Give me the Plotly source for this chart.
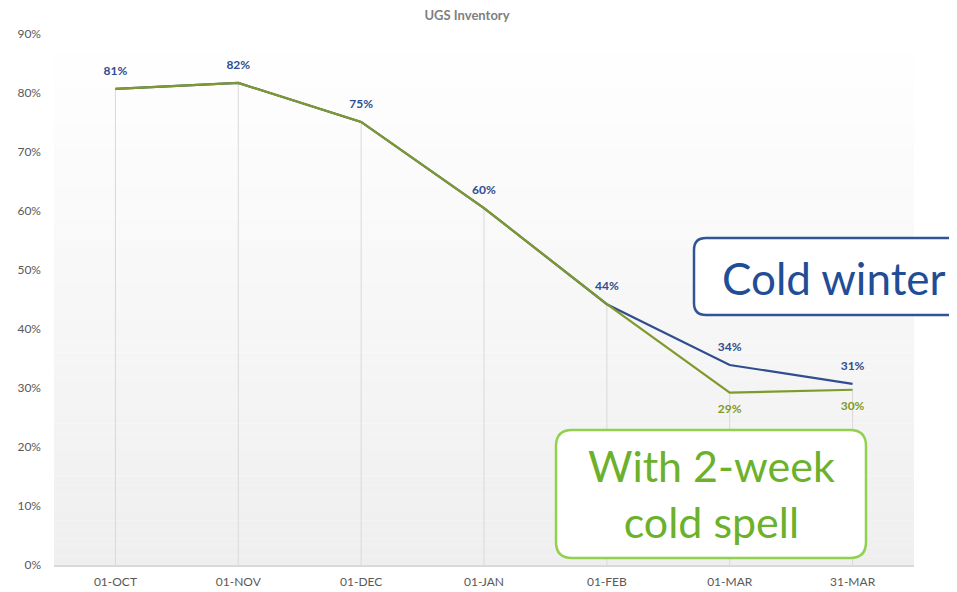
import plotly.graph_objects as go

categories = ["01-OCT", "01-NOV", "01-DEC", "01-JAN", "01-FEB", "01-MAR", "31-MAR"]
cold_winter = [0.807, 0.817, 0.751, 0.605, 0.442, 0.339, 0.307]
cold_spell = [0.807, 0.817, 0.751, 0.605, 0.442, 0.292, 0.297]
cold_winter_labels = ["81%", "82%", "75%", "60%", "44%", "34%", "31%"]
cold_spell_labels = ["", "", "", "", "", "29%", "30%"]
y_ticks = [0, 0.1, 0.2, 0.3, 0.4, 0.5, 0.6, 0.7, 0.8, 0.9]

BLUE = "#2f4d8f"
GREEN = "#7f9a2a"
FONT = "Lato, Liberation Sans, sans-serif"

# page has an 8px body offset; figure sized to fill the remaining window
OFF = 8
W, H = 957 - OFF, 592 - OFF
PL, PR, PT, PB = 54, 914, 34, 565  # plot area in screen pixels
L, R, T, B = PL - OFF, 957 - PR, PT - OFF, 592 - PB
pw, ph = PR - PL, PB - PT

def px(x):
    return (x - PL) / pw

def py(y):
    return (PB - y) / ph

fig = go.Figure()

# drop lines
dx, dy = [], []
for c, a, b in zip(categories, cold_winter, cold_spell):
    dx += [c, c, None]
    dy += [0, min(a, b), None]
fig.add_trace(go.Scatter(x=dx, y=dy, mode="lines", line=dict(color="#d9d9d9", width=1),
                         hoverinfo="skip", showlegend=False))

fig.add_trace(go.Scatter(x=categories, y=cold_winter, mode="lines+markers+text", name="Reference",
                         line=dict(color=BLUE, width=2.2), text=cold_winter_labels,
                         marker=dict(size=16, color="rgba(0,0,0,0)"),
                         textposition="top center",
                         textfont=dict(color=BLUE, size=12, family=FONT, weight="bold")))
fig.add_trace(go.Scatter(x=categories, y=cold_spell, mode="lines+markers+text", name="Cold spell",
                         line=dict(color=GREEN, width=2.2), text=cold_spell_labels,
                         marker=dict(size=16, color="rgba(0,0,0,0)"),
                         textposition="bottom center",
                         textfont=dict(color=GREEN, size=12, family=FONT, weight="bold")))

shapes = []
# background gradient
n = 60
for i in range(n):
    t = i / (n - 1)
    v = int(round(255 - (255 - 239) * (1 - t)))
    shapes.append(dict(type="rect", xref="paper", yref="paper", x0=0, x1=1,
                       y0=i / n, y1=(i + 1) / n, fillcolor=f"rgb({v},{v},{v})",
                       line=dict(width=0), layer="below"))

def rrect(x0, y0, x1, y1, r, color, width):
    X0, X1 = px(x0), px(x1)
    Y0, Y1 = py(y1), py(y0)
    rx, ry = r / pw, r / ph
    path = (f"M {X0+rx},{Y0} L {X1-rx},{Y0} Q {X1},{Y0} {X1},{Y0+ry} "
            f"L {X1},{Y1-ry} Q {X1},{Y1} {X1-rx},{Y1} L {X0+rx},{Y1} "
            f"Q {X0},{Y1} {X0},{Y1-ry} L {X0},{Y0+ry} Q {X0},{Y0} {X0+rx},{Y0} Z")
    return dict(type="path", xref="paper", yref="paper", path=path,
                fillcolor="white", line=dict(color=color, width=width), layer="above")

shapes.append(rrect(694, 238, 990, 315, 12, "#2f5597", 2.5))
shapes.append(rrect(556, 430, 866, 558, 16, "#92d050", 2.5))

annotations = [
    dict(text="Cold winter", xref="paper", yref="paper", x=px(834), y=py(278),
         xanchor="center", yanchor="middle",
         showarrow=False, font=dict(size=44, color="#1f4e96", family=FONT)),
    dict(text="With 2-week<br>cold spell", xref="paper", yref="paper", x=px(711), y=py(494),
         xanchor="center", yanchor="middle",
         showarrow=False, font=dict(size=43, color="#6cb12b", family=FONT)),
]

fig.update_layout(
    width=W, height=H,
    margin=dict(l=L, r=R, t=T, b=B),
    paper_bgcolor="white", plot_bgcolor="rgba(0,0,0,0)",
    showlegend=False,
    title=dict(text="<b>UGS Inventory</b>", x=(467 - OFF) / W, xanchor="center",
               y=1 - (15 - OFF) / H, yanchor="middle", automargin=False,
               font=dict(size=13, color="#7f7f7f", family=FONT)),
    shapes=shapes, annotations=annotations,
    font=dict(family=FONT),
)
fig.update_xaxes(type="category", range=[-0.5, len(categories) - 0.5], showgrid=False,
                 showline=True, linecolor="#d9d9d9", ticklabelstandoff=5, automargin=False,
                 linewidth=1.5, ticks="", tickfont=dict(size=12, color="#595959"), zeroline=False)
fig.update_yaxes(range=[0, 0.9], tickvals=y_ticks, tickformat=".0%", showgrid=False,
                 zeroline=False, showline=False, ticks="", ticklabelstandoff=12, automargin=False,
                 tickfont=dict(size=12, color="#595959"))

fig.write_html("out.html")
